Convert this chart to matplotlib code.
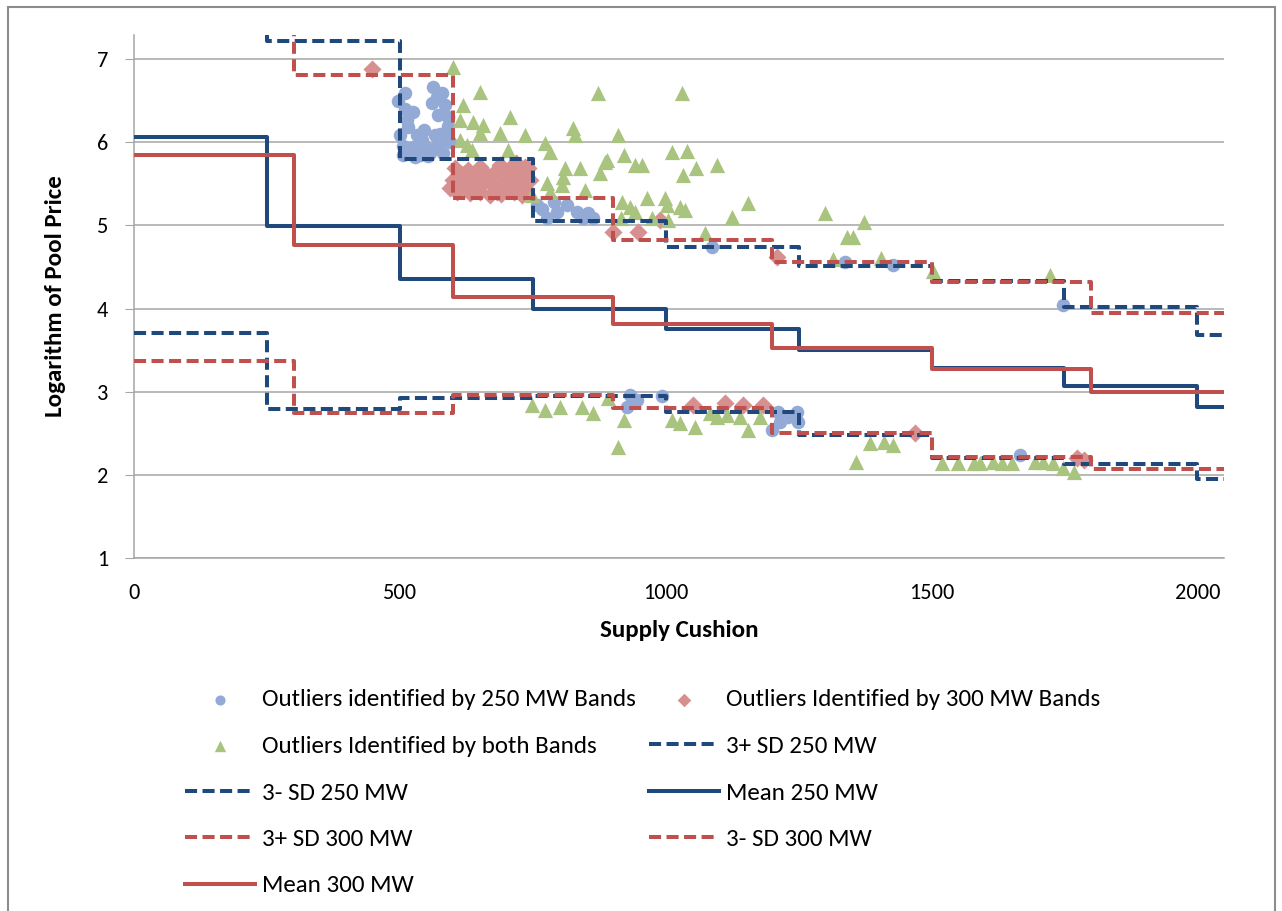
import numpy as np
import matplotlib
matplotlib.use("Agg")
import matplotlib.pyplot as plt
from matplotlib.patches import Rectangle

plt.rcParams['font.family'] = ['Carlito', 'Liberation Sans Narrow', 'Liberation Sans', 'DejaVu Sans']

# band edges (supply cushion, MW)
edges_250 = [0, 250, 500, 750, 1000, 1250, 1500, 1750, 2000, 2050]
edges_300 = [0, 300, 600, 900, 1200, 1500, 1800, 2050]

# band statistics, log of pool price
upper_250 = [7.6, 7.22, 5.80, 5.05, 4.74, 4.51, 4.33, 4.02, 3.68]
mean_250 = [6.06, 4.99, 4.35, 4.00, 3.75, 3.50, 3.28, 3.07, 2.82]
lower_250 = [3.71, 2.79, 2.92, 2.95, 2.76, 2.48, 2.20, 2.13, 1.95]

upper_300 = [7.6, 6.81, 5.33, 4.82, 4.56, 4.32, 3.95]
mean_300 = [5.85, 4.76, 4.14, 3.81, 3.52, 3.27, 3.00]
lower_300 = [3.37, 2.74, 2.96, 2.80, 2.50, 2.21, 2.07]

# outliers flagged only by the 250 MW bands
out250_x = [510, 497, 563, 580, 561, 585, 572, 525, 513, 516, 500, 532, 541, 566, 588,
            519, 547, 572, 506, 557, 581, 538, 590, 505,
            530, 560, 545, 575, 595, 510, 570, 590, 528, 552,
            758, 789, 814, 796, 833, 854, 863, 777, 845, 768,
            933, 946, 993, 927, 1212, 1247, 1200, 1215, 1249, 1230,
            1667, 1087, 1338, 1428, 1748]
out250_y = [6.59, 6.50, 6.66, 6.59, 6.47, 6.45, 6.33, 6.36, 6.27, 6.18, 6.09, 6.09, 6.03, 6.09, 6.09,
            5.93, 5.94, 5.97, 5.85, 5.87, 5.87, 5.85, 6.20, 5.95,
            5.95, 5.92, 6.15, 6.10, 6.00, 6.40, 6.55, 6.30, 5.82, 5.83,
            5.24, 5.28, 5.24, 5.16, 5.16, 5.15, 5.09, 5.09, 5.09, 5.20,
            2.96, 2.90, 2.95, 2.82, 2.76, 2.76, 2.54, 2.63, 2.63, 2.70,
            2.24, 4.74, 4.56, 4.52, 4.04]

# outliers flagged only by the 300 MW bands
out300_x = [448, 604, 613, 608, 628, 642, 651, 660, 676, 689, 694, 711, 707, 726, 736,
            741, 730, 670, 632, 595, 683, 620, 700, 655, 718,
            615, 645, 665, 690, 705, 720, 745, 600, 625, 650, 680, 735, 715, 640,
            990, 948, 901, 1210,
            1052, 1112, 1146, 1183, 1469, 1774, 1786]
out300_y = [6.88, 5.69, 5.55, 5.40, 5.67, 5.52, 5.40, 5.63, 5.48, 5.73, 5.58, 5.46, 5.69, 5.61, 5.45,
            5.69, 5.36, 5.36, 5.39, 5.45, 5.40, 5.62, 5.52, 5.50, 5.75,
            5.62, 5.45, 5.55, 5.38, 5.60, 5.50, 5.55, 5.55, 5.48, 5.70, 5.66, 5.70, 5.40, 5.60,
            5.06, 4.92, 4.92, 4.62,
            2.84, 2.86, 2.84, 2.84, 2.50, 2.20, 2.18]

# outliers flagged by both
both_x = [600, 651, 873, 619, 707, 613, 638, 657, 651, 689, 736, 826, 830, 911, 613,
          626, 636, 704, 773, 783, 890, 921, 811, 839, 877, 807, 805, 777, 849, 783, 749,
          1031, 1012, 1040, 886, 943, 956, 1057, 1097, 1033, 965, 999, 918, 933, 1003,
          1027, 1037, 943, 1155, 1125, 1300, 915, 975, 1005, 1372, 1341, 1353, 1315, 1404,
          1074, 1503, 1723,
          749, 773, 802, 843, 864, 892, 921, 911, 1012, 1027, 1055, 1084, 1097, 1116,
          1140, 1155, 1178, 1357, 1385, 1410, 1428,
          1520, 1550, 1579, 1592, 1616, 1632, 1651, 1695, 1710, 1729, 1748, 1767]
both_y = [6.90, 6.60, 6.59, 6.45, 6.30, 6.27, 6.24, 6.21, 6.11, 6.11, 6.09, 6.17, 6.09, 6.09, 6.03,
          5.97, 5.91, 5.91, 5.99, 5.88, 5.79, 5.85, 5.69, 5.69, 5.63, 5.58, 5.48, 5.51, 5.42, 5.40, 5.36,
          6.59, 5.88, 5.89, 5.76, 5.73, 5.73, 5.69, 5.73, 5.61, 5.33, 5.33, 5.28, 5.22, 5.24,
          5.22, 5.18, 5.16, 5.27, 5.10, 5.15, 5.09, 5.09, 5.06, 5.04, 4.86, 4.86, 4.60, 4.61,
          4.91, 4.45, 4.40,
          2.84, 2.78, 2.82, 2.82, 2.74, 2.92, 2.66, 2.33, 2.66, 2.62, 2.58, 2.74, 2.70, 2.72,
          2.70, 2.54, 2.70, 2.15, 2.38, 2.40, 2.36,
          2.14, 2.14, 2.14, 2.14, 2.16, 2.14, 2.14, 2.16, 2.16, 2.14, 2.08, 2.03]

blue = '#1F497D'
red = '#C0504D'

fig = plt.figure(figsize=(12.82, 9.11), dpi=100)
ax = fig.add_axes([134/1282, 1-558/911, (1224-134)/1282, (558-35)/911])

ax.scatter(out250_x, out250_y, s=95, marker='o', color='#93AAD6', linewidths=0, zorder=2,
           label='Outliers identified by 250 MW Bands')
ax.scatter(out300_x, out300_y, s=85, marker='D', color='#D69090', linewidths=0, zorder=2,
           label='Outliers Identified by 300 MW Bands')
ax.scatter(both_x, both_y, s=120, marker='^', color='#A9C47F', linewidths=0, zorder=2,
           label='Outliers Identified by both Bands')

def band(edges, vals):
    return edges, list(vals) + [vals[-1]]

dash = (3.0, 1.35)
lw = 2.9
x, y = band(edges_250, upper_250)
ax.step(x, y, where='post', color=blue, lw=lw, dashes=dash, zorder=3, label='3+ SD 250 MW')
x, y = band(edges_250, lower_250)
ax.step(x, y, where='post', color=blue, lw=lw, dashes=dash, zorder=3, label='3- SD 250 MW')
x, y = band(edges_250, mean_250)
ax.step(x, y, where='post', color=blue, lw=lw, zorder=3, label='Mean 250 MW')
x, y = band(edges_300, upper_300)
ax.step(x, y, where='post', color=red, lw=lw, dashes=dash, zorder=3, label='3+ SD 300 MW')
x, y = band(edges_300, lower_300)
ax.step(x, y, where='post', color=red, lw=lw, dashes=dash, zorder=3, label='3- SD 300 MW')
x, y = band(edges_300, mean_300)
ax.step(x, y, where='post', color=red, lw=lw, zorder=3, label='Mean 300 MW')

ax.set_xlim(0, 2050)
ax.set_ylim(1, 7.29)
ax.set_xticks([0, 500, 1000, 1500, 2000])
ax.set_yticks([1, 2, 3, 4, 5, 6, 7])
ax.yaxis.grid(True, color='#A6A6A6', lw=1.1)
ax.set_axisbelow(True)
for s in ['top', 'right']:
    ax.spines[s].set_visible(False)
for s in ['left', 'bottom']:
    ax.spines[s].set_color('#A6A6A6')
    ax.spines[s].set_linewidth(1.1)
ax.tick_params(axis='y', length=6.5, color='#A6A6A6', labelsize=16, pad=12)
ax.tick_params(axis='x', length=0, labelsize=16, pad=18)

ax.set_xlabel('Supply Cushion', fontsize=18, fontweight='bold')
ax.set_ylabel('Logarithm of Pool Price', fontsize=18, fontweight='bold')
ax.xaxis.set_label_coords(0.5, -(620-558)/523)
ax.yaxis.set_label_coords(-(134-66)/1090, 0.5)

# legend, Excel style row-major order
h, l = ax.get_legend_handles_labels()
order = [0, 2, 4, 6, 8, 1, 3, 5, 7]
fig.legend([h[i] for i in order], [l[i] for i in order], ncol=2, frameon=False,
           loc='upper left', bbox_to_anchor=(185/1282, 1-689/911),
           fontsize=18, handlelength=2.8, handletextpad=0.28, labelspacing=1.0,
           columnspacing=0.52, borderpad=0, borderaxespad=0, markerscale=0.75)

fig.add_artist(Rectangle((8/1282, -0.05), (1275-8)/1282, 1.05-7/911, transform=fig.transFigure,
                         fill=False, edgecolor='#8C8C8C', lw=1.5))

fig.savefig('out.png', dpi=100)
